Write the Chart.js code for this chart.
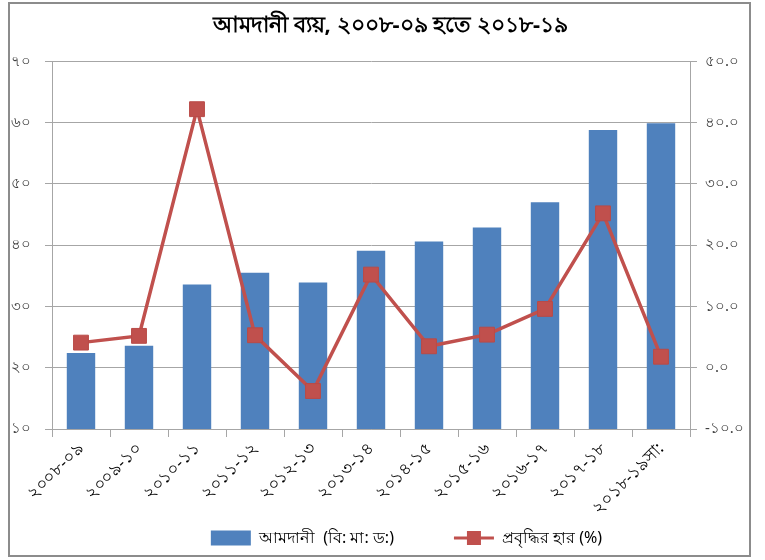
<!DOCTYPE html>
<html>
<head>
<meta charset="utf-8">
<script src="https://cdn.jsdelivr.net/npm/chart.js@4/dist/chart.umd.min.js"></script>
<style>
html,body{margin:0;padding:0;background:#fff;}
#wrap{position:relative;width:765px;height:560px;}
</style>
</head>
<body>
<div id="wrap"><canvas id="c" width="765" height="560"></canvas></div>
<script>
const chartTitle = 'আমদানী ব্যয়, ২০০৮-০৯ হতে ২০১৮-১৯';
const categories = ['২০০৮-০৯','২০০৯-১০','২০১০-১১','২০১১-১২','২০১২-১৩','২০১৩-১৪','২০১৪-১৫','২০১৫-১৬','২০১৬-১৭','২০১৭-১৮','২০১৮-১৯সা:'];
const importValues = [22.4, 23.6, 33.6, 35.5, 33.9, 39.1, 40.6, 42.9, 47.0, 58.8, 59.9];
const growthValues = [4.1, 5.2, 42.2, 5.3, -3.8, 15.2, 3.5, 5.4, 9.6, 25.2, 1.8];
const seriesNames = ['আমদানী  (বি: মা: ড:)', 'প্রবৃদ্ধির হার (%)'];
const leftTicks = [10, 20, 30, 40, 50, 60, 70];
const leftTickLabels = ['১০','২০','৩০','৪০','৫০','৬০','৭০'];
const rightTicks = [-10, 0, 10, 20, 30, 40, 50];
const rightTickLabels = ['-১০.০','০.০','১০.০','২০.০','৩০.০','৪০.০','৫০.০'];

const FONT = "'Noto Sans', 'DejaVu Sans', sans-serif";
const BLUE = '#4f81bd';
const RED = '#c0504d';
const GRID = '#a6a6a6';
const TICKC = '#404040';

const framePlugin = {
  id: 'frame',
  afterLayout(chart) {
    const lg = chart.legend;
    if (lg) {
      const dx = 21;
      lg.left += dx; lg.right += dx;
      (lg.legendHitBoxes || []).forEach(h => { h.left += dx; });
    }
    const tb = chart.titleBlock;
    if (tb) { tb.left += 5; tb.right += 5; }
  },
  beforeDraw(chart) {
    const ctx = chart.ctx;
    ctx.save();
    ctx.fillStyle = '#fff';
    ctx.fillRect(0, 0, chart.width, chart.height);
    ctx.restore();
  },
  afterDraw(chart) {
    const ctx = chart.ctx;
    ctx.save();
    ctx.strokeStyle = '#8c8c8c';
    ctx.lineWidth = 2;
    ctx.strokeRect(9, 3, 741, 553);
    const lg = chart.legend;
    if (lg && lg.legendHitBoxes && lg.legendHitBoxes[1]) {
      const hb = lg.legendHitBoxes[1];
      const bw = lg.options.labels.boxWidth;
      const y = hb.top + hb.height / 2;
      ctx.strokeStyle = RED;
      ctx.lineWidth = 3;
      ctx.beginPath();
      ctx.moveTo(hb.left, y);
      ctx.lineTo(hb.left + bw, y);
      ctx.stroke();
      ctx.fillStyle = RED;
      ctx.fillRect(hb.left + bw / 2 - 7, y - 7, 14, 14);
    }
    ctx.restore();
  }
};

new Chart(document.getElementById('c'), {
  data: {
    labels: categories,
    datasets: [
      {
        type: 'line',
        label: seriesNames[1],
        data: growthValues,
        yAxisID: 'y1',
        borderColor: RED,
        borderWidth: 3.5,
        backgroundColor: RED,
        pointStyle: 'rect',
        pointRadius: 10.5,
        pointHoverRadius: 10.5,
        pointBackgroundColor: RED,
        pointBorderColor: '#b94a47',
        pointBorderWidth: 1,
        tension: 0,
        order: 0
      },
      {
        type: 'bar',
        label: seriesNames[0],
        data: importValues,
        yAxisID: 'y',
        backgroundColor: BLUE,
        borderWidth: 0,
        barPercentage: 0.49,
        categoryPercentage: 1.0,
        order: 1
      }
    ]
  },
  options: {
    responsive: false,
    animation: false,
    layout: { padding: { left: 10, right: 4, top: 0, bottom: 4 } },
    plugins: {
      tooltip: { enabled: false },
      title: {
        display: true,
        text: chartTitle,
        color: '#000',
        font: { family: FONT, size: 22, weight: 'bold' },
        padding: { top: 13, bottom: 22 }
      },
      legend: {
        position: 'bottom',
        labels: {
          boxWidth: 40,
          boxHeight: 15,
          padding: 12,
          color: '#000',
          font: { family: FONT, size: 16 },
          generateLabels(chart) {
            return [
              { text: seriesNames[0] + '\u2003\u2003\u2003', fillStyle: BLUE, strokeStyle: BLUE, lineWidth: 0, datasetIndex: 1, hidden: false },
              { text: seriesNames[1], fillStyle: 'rgba(0,0,0,0)', strokeStyle: 'rgba(0,0,0,0)', lineWidth: 0, datasetIndex: 0, hidden: false }
            ];
          }
        }
      }
    },
    scales: {
      x: {
        offset: true,
        grid: { display: true, drawOnChartArea: false, drawTicks: true, tickLength: 8, color: GRID, offset: true },
        border: { display: true, color: GRID, width: 1 },
        ticks: {
          color: '#000',
          font: { family: FONT, size: 17 },
          maxRotation: 45,
          minRotation: 45,
          autoSkip: false,
          padding: 2
        },
        afterFit(s) { s.height = 89; }
      },
      y: {
        position: 'left',
        min: 10, max: 70,
        afterBuildTicks(s) { s.ticks = leftTicks.map(v => ({ value: v })); },
        grid: { color: GRID, drawTicks: true, tickLength: 7, lineWidth: 1 },
        border: { display: true, color: GRID, width: 1 },
        ticks: {
          color: TICKC,
          font: { family: FONT, size: 15 },
          padding: 14,
          callback(v) { const i = leftTicks.indexOf(v); return i >= 0 ? leftTickLabels[i] : ''; }
        },
        afterFit(s) { s.width = 42; }
      },
      y1: {
        position: 'right',
        min: -10, max: 50,
        afterBuildTicks(s) { s.ticks = rightTicks.map(v => ({ value: v })); },
        grid: { drawOnChartArea: false, color: GRID, drawTicks: true, tickLength: 7 },
        border: { display: true, color: GRID, width: 1 },
        ticks: {
          color: TICKC,
          font: { family: FONT, size: 15 },
          padding: 8,
          callback(v) { const i = rightTicks.indexOf(v); return i >= 0 ? rightTickLabels[i] : ''; }
        },
        afterFit(s) { s.width = 71; }
      }
    }
  },
  plugins: [framePlugin]
});
</script>
</body>
</html>
